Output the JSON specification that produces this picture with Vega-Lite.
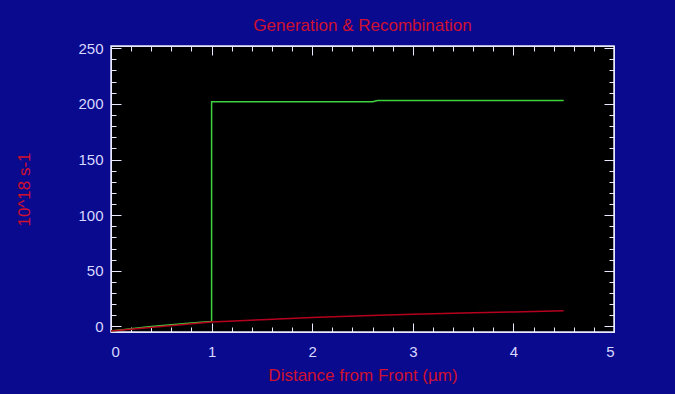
{
  "$schema": "https://vega.github.io/schema/vega-lite/v6.json",
  "autosize": {"type": "none"},
  "width": 503,
  "height": 286,
  "padding": {"left": 111, "top": 46, "right": 61, "bottom": 62},
  "background": "#0a0a8e",
  "title": {"text": "Generation & Recombination", "color": "#d0102e", "fontSize": 17, "fontWeight": "normal", "font": "Liberation Sans", "offset": 6, "anchor": "middle"},
  "config": {
    "view": {"fill": "black", "stroke": "#e8e8ff", "strokeWidth": 1.5},
    "axis": {"grid": false, "domainColor": "#e8e8ff", "tickColor": "#e8e8ff", "labelColor": "#d8d8ff", "labelFont": "Liberation Sans", "labelFontSize": 15, "titleFont": "Liberation Sans", "titleColor": "#d0102e", "titleFontWeight": "normal", "titleFontSize": 17}
  },
  "data": {"values": [
    {"series": "Generation", "x": 0.0, "y": -4, "o": 1},
    {"series": "Generation", "x": 0.2, "y": -2, "o": 2},
    {"series": "Generation", "x": 0.4, "y": 0, "o": 3},
    {"series": "Generation", "x": 0.6, "y": 1.5, "o": 4},
    {"series": "Generation", "x": 0.8, "y": 3, "o": 5},
    {"series": "Generation", "x": 1.0, "y": 4.5, "o": 6},
    {"series": "Generation", "x": 1.0, "y": 202, "o": 7},
    {"series": "Generation", "x": 2.6, "y": 202, "o": 8},
    {"series": "Generation", "x": 2.65, "y": 203, "o": 9},
    {"series": "Generation", "x": 4.5, "y": 203, "o": 10},
    {"series": "Recombination", "x": 0.0, "y": -4, "o": 1},
    {"series": "Recombination", "x": 0.5, "y": 0, "o": 2},
    {"series": "Recombination", "x": 1.0, "y": 4, "o": 3},
    {"series": "Recombination", "x": 1.5, "y": 6, "o": 4},
    {"series": "Recombination", "x": 2.0, "y": 8, "o": 5},
    {"series": "Recombination", "x": 2.5, "y": 9.5, "o": 6},
    {"series": "Recombination", "x": 3.0, "y": 11, "o": 7},
    {"series": "Recombination", "x": 3.5, "y": 12, "o": 8},
    {"series": "Recombination", "x": 4.0, "y": 13, "o": 9},
    {"series": "Recombination", "x": 4.5, "y": 14, "o": 10}
  ]},
  "resolve": {"axis": {"x": "independent", "y": "independent"}},
  "layer": [
    {
      "mark": {"type": "line", "strokeWidth": 1.5},
      "encoding": {
        "x": {"field": "x", "type": "quantitative", "scale": {"domain": [0, 5], "nice": false},
          "axis": {"orient": "bottom", "title": "Distance from Front (µm)", "values": [0,0.2,0.4,0.6,0.8,1,1.2,1.4,1.6,1.8,2,2.2,2.4,2.6,2.8,3,3.2,3.4,3.6,3.8,4,4.2,4.4,4.6,4.8,5],
            "labelExpr": "abs(datum.value - round(datum.value)) < 0.001 ? format(datum.value, 'd') : ''",
            "tickSize": {"condition": {"test": "abs(datum.value - round(datum.value)) < 0.001", "value": -9}, "value": -5},
            "labelPadding": 21, "titlePadding": 8}},
        "y": {"field": "y", "type": "quantitative", "scale": {"domain": [-5, 252], "nice": false, "zero": false},
          "axis": {"orient": "left", "title": "10^18 s-1", "values": [0,10,20,30,40,50,60,70,80,90,100,110,120,130,140,150,160,170,180,190,200,210,220,230,240,250],
            "labelExpr": "datum.value % 50 === 0 ? datum.label : ''",
            "tickSize": {"condition": {"test": "datum.value % 50 === 0", "value": -10}, "value": -5},
            "labelPadding": 18, "titlePadding": 44}},
        "color": {"field": "series", "type": "nominal", "scale": {"domain": ["Generation", "Recombination"], "range": ["#3ed23e", "#b5001e"]}, "legend": null},
        "order": {"field": "o", "type": "quantitative"}
      }
    },
    {
      "mark": {"type": "line", "opacity": 0},
      "encoding": {
        "x": {"field": "x", "type": "quantitative", "scale": {"domain": [0, 5], "nice": false},
          "axis": {"orient": "top", "title": null, "labels": false, "values": [0,0.2,0.4,0.6,0.8,1,1.2,1.4,1.6,1.8,2,2.2,2.4,2.6,2.8,3,3.2,3.4,3.6,3.8,4,4.2,4.4,4.6,4.8,5],
            "tickSize": {"condition": {"test": "abs(datum.value - round(datum.value)) < 0.001", "value": -9}, "value": -5}}},
        "y": {"field": "y", "type": "quantitative", "scale": {"domain": [-5, 252], "nice": false, "zero": false},
          "axis": {"orient": "right", "title": null, "labels": false, "values": [0,10,20,30,40,50,60,70,80,90,100,110,120,130,140,150,160,170,180,190,200,210,220,230,240,250],
            "tickSize": {"condition": {"test": "datum.value % 50 === 0", "value": -10}, "value": -5}}},
        "detail": {"field": "series", "type": "nominal"}
      }
    }
  ]
}
